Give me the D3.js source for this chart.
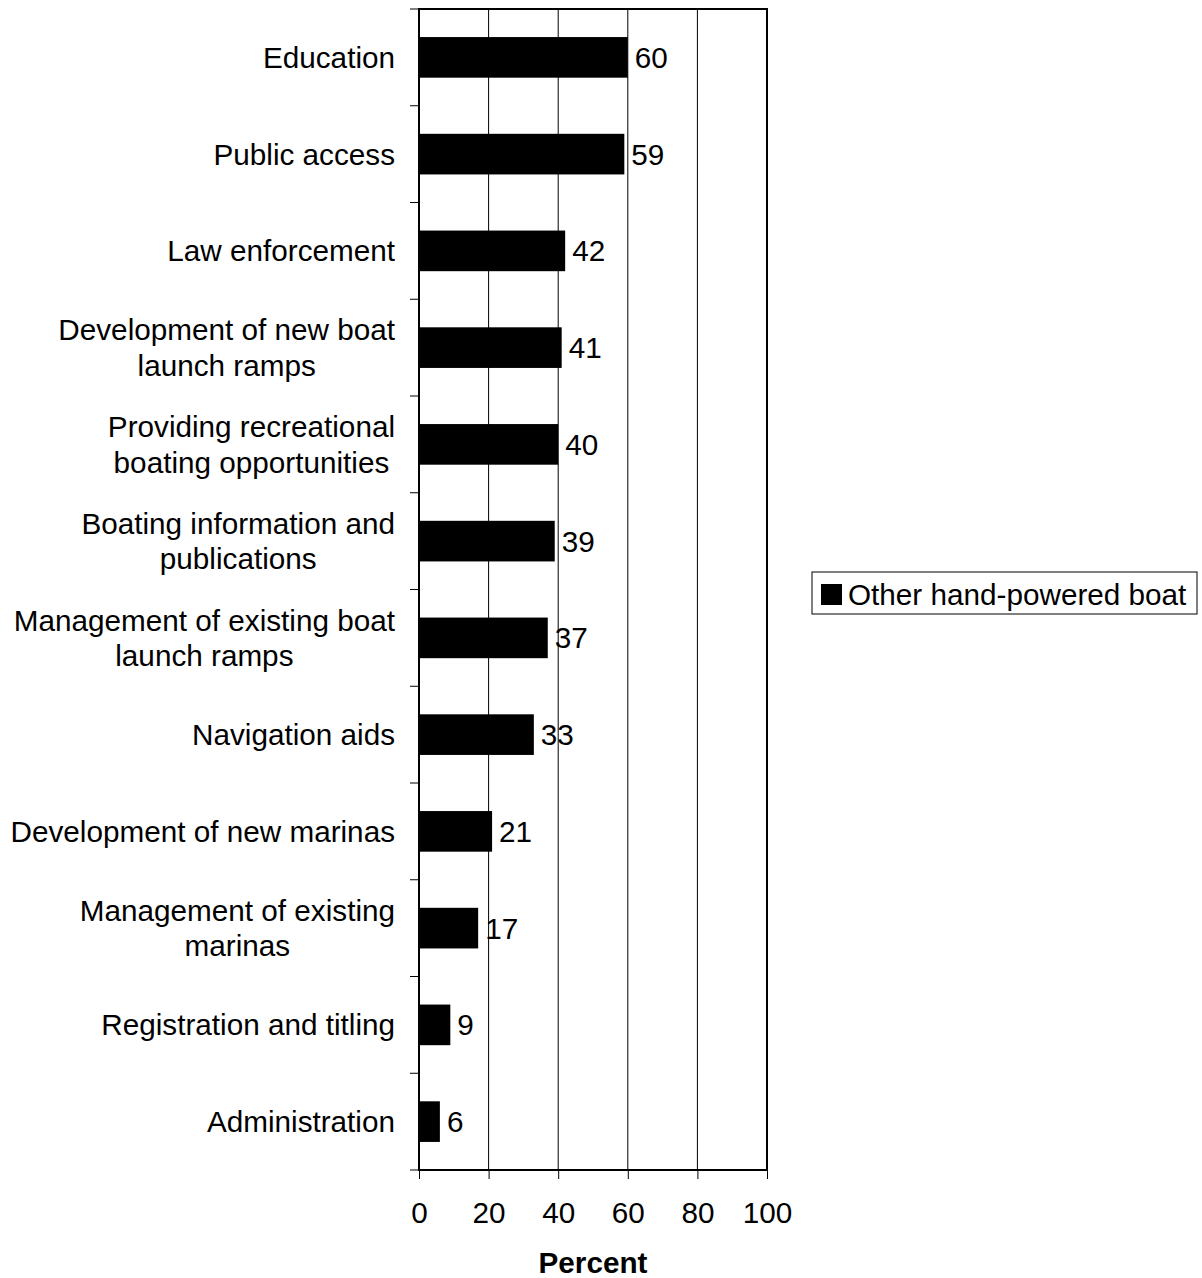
<!DOCTYPE html>
<html><head><meta charset="utf-8">
<script src="https://cdn.jsdelivr.net/npm/d3@7/dist/d3.min.js"></script>
<style>body{margin:0;background:#fff}svg{display:block}text{font-family:"Liberation Sans",Arial,sans-serif;fill:#000}</style>
</head><body><svg id="c" width="1202" height="1278"></svg>
<script>
const categories = [
  ["Education"],
  ["Public access"],
  ["Law enforcement"],
  ["Development of new boat","launch ramps"],
  ["Providing recreational","boating opportunities"],
  ["Boating information and","publications"],
  ["Management of existing boat","launch ramps"],
  ["Navigation aids"],
  ["Development of new marinas"],
  ["Management of existing","marinas"],
  ["Registration and titling"],
  ["Administration"]
];
const values = [60, 59, 42, 41, 40, 39, 37, 33, 21, 17, 9, 6];
const xTicks = [0, 20, 40, 60, 80, 100];
const seriesName = "Other hand-powered boat";
const xTitle = "Percent";

const FS = 29.7;
const svg = d3.select("#c");
const L = 419, R = 767, T = 9, B = 1170;
const x = d3.scaleLinear().domain([0, 100]).range([L, R]);
const y = d3.scaleBand().domain(d3.range(categories.length)).range([T, B]).paddingInner(0.58).paddingOuter(0.29);
const yEdge = d3.scaleLinear().domain([0, categories.length]).range([T, B]);

// gridlines
svg.append("g").selectAll("line").data(xTicks.filter(d => d > 0 && d < 100)).join("line")
  .attr("x1", d => x(d)).attr("x2", d => x(d)).attr("y1", T).attr("y2", B)
  .attr("stroke", "#000").attr("stroke-width", 1);

// bars
svg.append("g").selectAll("rect").data(values).join("rect")
  .attr("x", x(0)).attr("y", (d, i) => y(i)).attr("width", d => x(d) - x(0)).attr("height", y.bandwidth())
  .attr("fill", "#000");

// value labels
svg.append("g").selectAll("text").data(values).join("text")
  .attr("x", d => x(d) + 7).attr("y", (d, i) => y(i) + y.bandwidth() / 2)
  .attr("dy", "0.35em").attr("font-size", FS).text(d => d);

// frame
svg.append("rect").attr("x", L).attr("y", T).attr("width", R - L).attr("height", B - T)
  .attr("fill", "none").attr("stroke", "#000").attr("stroke-width", 2);

// y ticks (category boundaries)
svg.append("g").selectAll("line").data(d3.range(categories.length + 1)).join("line")
  .attr("x1", L - 9).attr("x2", L).attr("y1", d => yEdge(d)).attr("y2", d => yEdge(d))
  .attr("stroke", "#000").attr("stroke-width", 1);

// x axis ticks
const xAxis = d3.axisBottom(x).tickValues(xTicks).tickSize(9);
const gx = svg.append("g").attr("transform", `translate(0,${B})`).call(xAxis);
gx.select(".domain").remove();
gx.selectAll("line").attr("stroke", "#000");
gx.selectAll("text").attr("y", 53).attr("dy", "0").attr("font-size", FS)
  .attr("font-family", '"Liberation Sans",Arial,sans-serif').attr("fill", "#000");

// category labels: block right-aligned, lines centred within block
const lh = 35.5, labelRight = 395;
categories.forEach((lines, i) => {
  const cy = y(i) + y.bandwidth() / 2;
  const t = svg.append("text").attr("text-anchor", "middle").attr("font-size", FS);
  const spans = lines.map((s, k) => t.append("tspan")
    .attr("y", cy + (k - (lines.length - 1) / 2) * lh).attr("dy", "0.35em").text(s));
  const w = d3.max(spans, sp => sp.node().getComputedTextLength());
  spans.forEach(sp => sp.attr("x", labelRight - w / 2));
});

// x title
svg.append("text").attr("x", (L + R) / 2).attr("y", 1273).attr("text-anchor", "middle")
  .attr("font-size", FS).attr("font-weight", "bold").text(xTitle);

// legend
const lg = svg.append("g");
lg.append("rect").attr("x", 812).attr("y", 572).attr("width", 385).attr("height", 42)
  .attr("fill", "#fff").attr("stroke", "#000").attr("stroke-width", 1);
lg.append("rect").attr("x", 821).attr("y", 584).attr("width", 21).attr("height", 21).attr("fill", "#000");
lg.append("text").attr("x", 848).attr("y", 605).attr("font-size", FS).text(seriesName);
</script></body></html>
